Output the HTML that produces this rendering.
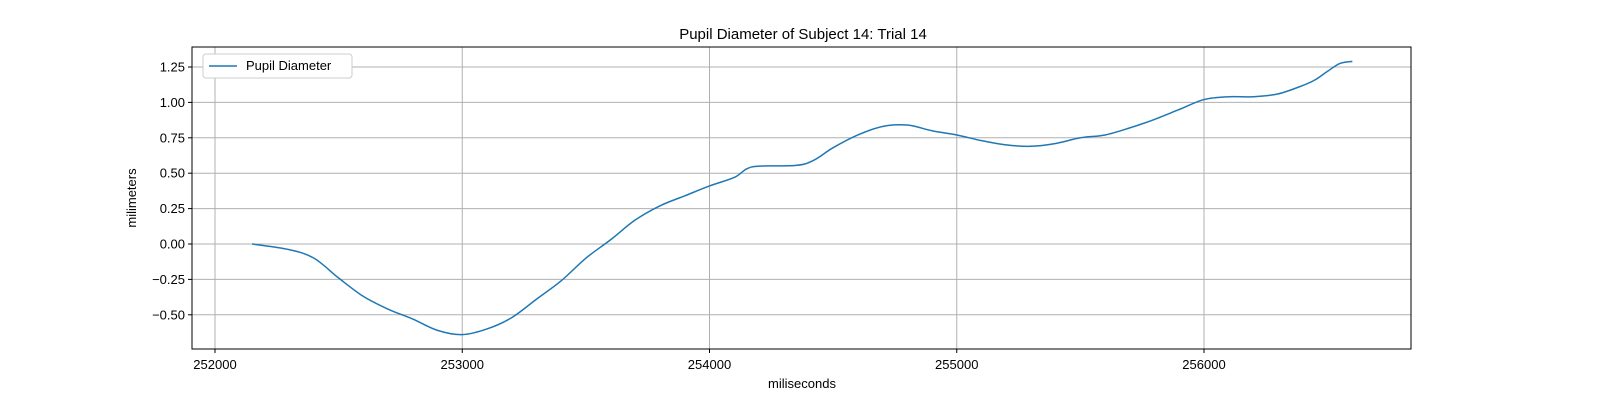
<!DOCTYPE html>
<html><head><meta charset="utf-8"><style>
body{margin:0;background:#fff;font-family:"Liberation Sans","DejaVu Sans",sans-serif}
svg text{font-family:"Liberation Sans","DejaVu Sans",sans-serif;fill:#000}
</style></head><body>
<svg id="chart" width="1600" height="400" viewBox="0 0 1600 400" xmlns="http://www.w3.org/2000/svg">
<rect width="1600" height="400" fill="#fff"/>
<g id="grid"></g>
<g id="ticks"></g>
<path id="line" fill="none" stroke="#1f77b4" stroke-width="1.5"/>
<rect x="192" y="47" width="1219" height="302" fill="none" stroke="#000" stroke-width="1"/>
<text x="803" y="39" font-size="15" text-anchor="middle">Pupil Diameter of Subject 14: Trial 14</text>
<text x="802" y="388" font-size="13" text-anchor="middle">miliseconds</text>
<text x="136" y="198" font-size="13" text-anchor="middle" transform="rotate(-90 136 198)">milimeters</text>
<g>
<rect x="203" y="54" width="149" height="24" fill="#fff" stroke="#ccc" rx="3"/>
<line x1="209" y1="66" x2="237" y2="66" stroke="#1f77b4" stroke-width="1.5"/>
<text x="246" y="70" font-size="13">Pupil Diameter</text>
</g>
</svg>
<script>
const times=[252150,252300,252400,252500,252600,252700,252800,252900,253000,253100,253200,253300,253400,253500,253600,253700,253800,253900,254000,254100,254150,254200,254350,254420,254500,254600,254700,254800,254900,255000,255100,255200,255300,255400,255500,255600,255700,255800,255900,256000,256100,256200,256300,256400,256450,256500,256550,256600];
const values=[0,-0.04,-0.1,-0.24,-0.37,-0.46,-0.53,-0.61,-0.64,-0.6,-0.52,-0.39,-0.26,-0.1,0.03,0.17,0.27,0.34,0.41,0.47,0.53,0.55,0.555,0.59,0.68,0.77,0.83,0.84,0.8,0.77,0.73,0.7,0.69,0.71,0.75,0.77,0.82,0.88,0.95,1.02,1.04,1.04,1.06,1.12,1.16,1.22,1.275,1.29];
const xTicks=[252000,253000,254000,255000,256000];
const yTicks=[-0.5,-0.25,0,0.25,0.5,0.75,1.0,1.25];
const X=v=>215+(v-252000)*0.24725;
const Y=v=>244-v*141.6;
const NS='http://www.w3.org/2000/svg';
const grid=document.getElementById('grid'),ticks=document.getElementById('ticks');
function mk(tag,attrs,parent){const e=document.createElementNS(NS,tag);for(const k in attrs)e.setAttribute(k,attrs[k]);parent.appendChild(e);return e;}
xTicks.forEach(t=>{const x=X(t);
 const g=mk('line',{x1:x,x2:x,y1:47,y2:349,stroke:'#b0b0b0','stroke-width':1},grid);
 
 
 mk('line',{x1:x,x2:x,y1:349,y2:353,stroke:'#000'},ticks);
 const l=mk('text',{x:x,y:369,'font-size':13,'text-anchor':'middle'},ticks);l.textContent=t;
 
 });
yTicks.forEach(t=>{const y=Y(t);
 const g=mk('line',{x1:192,x2:1411,y1:y,y2:y,stroke:'#b0b0b0','stroke-width':1},grid);
 
 
 mk('line',{x1:188,x2:192,y1:y,y2:y,stroke:'#000'},ticks);
 const l=mk('text',{x:185,y:y+4.5,'font-size':13,'text-anchor':'end'},ticks);l.textContent=t.toFixed(2).replace('-','\u2212');
 
 });
// Catmull-Rom smoothing
const P=times.map((t,i)=>[X(t),Y(values[i])]);
let d='M'+P[0][0]+','+P[0][1];
for(let i=0;i<P.length-1;i++){const p0=P[i-1]||P[i],p1=P[i],p2=P[i+1],p3=P[i+2]||P[i+1];
 d+=` C${p1[0]+(p2[0]-p0[0])/6},${p1[1]+(p2[1]-p0[1])/6} ${p2[0]-(p3[0]-p1[0])/6},${p2[1]-(p3[1]-p1[1])/6} ${p2[0]},${p2[1]}`;}
document.getElementById('line').setAttribute('d',d);
</script>
</body></html>
